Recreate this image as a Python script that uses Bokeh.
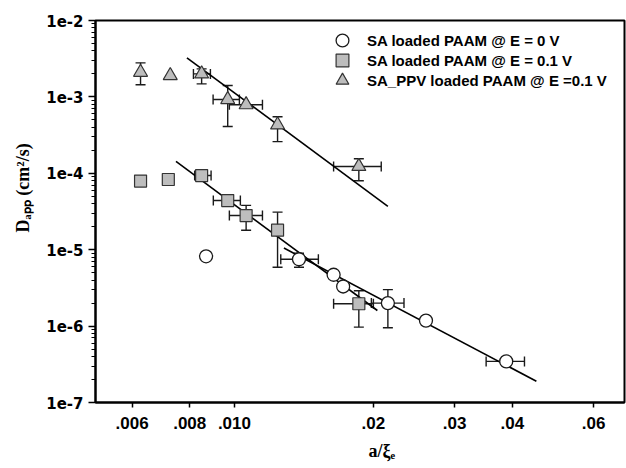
import math
from bokeh.plotting import figure
from bokeh.models import (FixedTicker, Whisker, TeeHead, ColumnDataSource,
                          Legend, LegendItem, Title)
from bokeh.embed import file_html
from bokeh.resources import INLINE

nan = float("nan")

# ---- data ----
circ_x = [0.00868, 0.0138, 0.0164, 0.0172, 0.0215, 0.0260, 0.0388]
circ_y = [8.2e-6, 7.5e-6, 4.7e-6, 3.3e-6, 2.0e-6, 1.18e-6, 3.45e-7]
circ_xlo = [nan, 0.0126, nan, nan, 0.0198, nan, 0.0351]
circ_xhi = [nan, 0.0152, nan, nan, 0.0233, nan, 0.0425]
circ_ylo = [nan, 5.9e-6, nan, nan, 9.5e-7, nan, nan]
circ_yhi = [nan, 9.0e-6, nan, nan, 3.0e-6, nan, nan]

sq_x = [0.00626, 0.00719, 0.00849, 0.00967, 0.0106, 0.0124, 0.0186]
sq_y = [7.9e-5, 8.3e-5, 9.35e-5, 4.4e-5, 2.8e-5, 1.8e-5, 1.96e-6]
sq_xlo = [nan, nan, 0.0082, 0.0090, 0.00975, nan, 0.0164]
sq_xhi = [nan, nan, 0.0089, 0.0103, 0.0115, nan, 0.0200]
sq_ylo = [nan, nan, nan, nan, 1.8e-5, 5.9e-6, 9.7e-7]
sq_yhi = [nan, nan, nan, nan, 3.8e-5, 3.1e-5, 2.9e-6]

tri_x = [0.00626, 0.00726, 0.00849, 0.00967, 0.0106, 0.0124, 0.0186]
tri_y = [2.1e-3, 1.9e-3, 2.0e-3, 9.25e-4, 7.9e-4, 4.3e-4, 1.23e-4]
tri_xlo = [nan, nan, 0.00815, 0.00899, 0.00975, nan, 0.0164]
tri_xhi = [nan, nan, 0.00887, 0.01025, 0.0115, nan, 0.0208]
tri_ylo = [1.44e-3, nan, 1.48e-3, 4.1e-4, nan, 2.6e-4, 8.0e-5]
tri_yhi = [2.79e-3, nan, 2.33e-3, 1.41e-3, nan, 5.5e-4, 1.55e-4]

tri_fit_x = [0.00789, 0.0215]
tri_fit_y = [3.25e-3, 3.7e-5]
sq_fit_x = [0.00747, 0.0204]
sq_fit_y = [1.43e-4, 1.6e-6]
circ_fit_x = [0.0128, 0.0451]
circ_fit_y = [1.05e-5, 1.9e-7]

series_labels = ["SA loaded PAAM @ E = 0 V",
                 "SA loaded PAAM @ E = 0.1 V",
                 "SA_PPV loaded PAAM @ E =0.1 V"]

x_ticks = [0.006, 0.008, 0.01, 0.02, 0.03, 0.04, 0.06]
x_tick_labels = [".006", ".008", ".010", ".02", ".03", ".04", ".06"]
y_ticks = [1e-7, 1e-6, 1e-5, 1e-4, 1e-3, 1e-2]
y_tick_labels = ["1e-7", "1e-6", "1e-5", "1e-4", "1e-3", "1e-2"]

x_title = "a/\u03be\u2091"
y_title = "D\u2090\u209a\u209a (cm\u00b2/s)"

# ---- layout ----
W, H = 626, 468
FL, FR, FT, FB = 95, 624, 20, 402

p = figure(width=W, height=H, x_axis_type="log", y_axis_type="log",
           x_range=(0.005, 0.07), y_range=(1e-7, 1e-2),
           output_backend="svg", toolbar_location=None,
           min_border_left=FL, min_border_right=W - FR,
           min_border_top=FT, min_border_bottom=H - FB)
p.grid.visible = False
p.outline_line_color = "black"
p.outline_line_width = 2
p.background_fill_color = "white"
p.border_fill_color = "white"

p.xaxis.ticker = FixedTicker(ticks=x_ticks)
p.xaxis.major_label_overrides = {t: l for t, l in zip(x_ticks, x_tick_labels)}
minors = [k * 10.0 ** e for e in range(-7, -2) for k in range(2, 10)]
p.yaxis.ticker = FixedTicker(ticks=y_ticks, minor_ticks=minors)
p.yaxis.major_label_overrides = {t: l for t, l in zip(y_ticks, y_tick_labels)}

for ax in (p.xaxis[0], p.yaxis[0]):
    ax.axis_line_width = 2
    ax.axis_line_color = "black"
    ax.major_tick_line_width = 1.5
    ax.major_tick_in = 0
    ax.minor_tick_in = 0
    ax.major_label_text_font_style = "bold"
    ax.major_label_text_color = "black"
p.xaxis.major_tick_out = 5
p.xaxis.minor_tick_line_color = None
p.xaxis.major_label_standoff = 9
p.xaxis.major_label_text_font = "Liberation Sans"
p.xaxis.major_label_text_font_size = "17px"
p.yaxis.major_tick_out = 7
p.yaxis.minor_tick_out = 4
p.yaxis.minor_tick_line_width = 1.2
p.yaxis.major_label_standoff = 5
p.yaxis.major_label_text_font = "DejaVu Sans"
p.yaxis.major_label_text_font_size = "15px"

EC = "#1a1a1a"


def add_err(xs, ys, lo, hi, dim):
    idx = [i for i in range(len(xs)) if not math.isnan(lo[i])]
    if not idx:
        return
    base = [xs[i] for i in idx] if dim == "height" else [ys[i] for i in idx]
    src = ColumnDataSource(dict(base=base, lower=[lo[i] for i in idx],
                                upper=[hi[i] for i in idx]))
    w = Whisker(source=src, base="base", lower="lower", upper="upper",
                dimension=dim, line_color=EC, line_width=1.4,
                upper_head=TeeHead(size=10, line_color=EC, line_width=1.4),
                lower_head=TeeHead(size=10, line_color=EC, line_width=1.4))
    p.add_layout(w)


add_err(circ_x, circ_y, circ_xlo, circ_xhi, "width")
add_err(circ_x, circ_y, circ_ylo, circ_yhi, "height")
add_err(sq_x, sq_y, sq_xlo, sq_xhi, "width")
add_err(sq_x, sq_y, sq_ylo, sq_yhi, "height")
add_err(tri_x, tri_y, tri_xlo, tri_xhi, "width")
add_err(tri_x, tri_y, tri_ylo, tri_yhi, "height")

for fx, fy in ((tri_fit_x, tri_fit_y), (sq_fit_x, sq_fit_y), (circ_fit_x, circ_fit_y)):
    p.line(fx, fy, line_color="black", line_width=1.6)

GRAY = "#bdbdbd"
r_c = p.scatter(circ_x, circ_y, marker="circle", size=13, fill_color="white",
                line_color=EC, line_width=1.3)
r_s = p.scatter(sq_x, sq_y, marker="square", size=12, fill_color=GRAY,
                line_color="#333333", line_width=1.2)
r_t = p.scatter(tri_x, tri_y, marker="triangle", size=14, fill_color=GRAY,
                line_color="#333333", line_width=1.2)

# legend: one single-row legend per series, glyph box 32 px -> marker ~13 px
for lbl, rend, yc in zip(series_labels, (r_c, r_s, r_t), (39, 59, 79)):
    leg = Legend(items=[LegendItem(label=lbl, renderers=[rend])],
                 location=(326 - FL, FB - (yc + 17)), glyph_width=32,
                 glyph_height=32, label_height=20, spacing=0, label_standoff=9,
                 padding=0, margin=0, border_line_color=None,
                 background_fill_alpha=0, label_text_font="Liberation Sans",
                 label_text_font_style="bold", label_text_font_size="15px",
                 label_text_color="black")
    p.add_layout(leg)

# axis titles (offset applies with align="left")
p.add_layout(Title(text=y_title, align="left", offset=170, standoff=21,
                   text_font="Liberation Serif", text_font_style="bold",
                   text_font_size="18px", text_color="black"), "left")
p.add_layout(Title(text=x_title, align="left", offset=273, standoff=14,
                   text_font="Liberation Serif", text_font_style="bold",
                   text_font_size="18px", text_color="black"), "below")

open("out.html", "w").write(file_html(p, INLINE))
